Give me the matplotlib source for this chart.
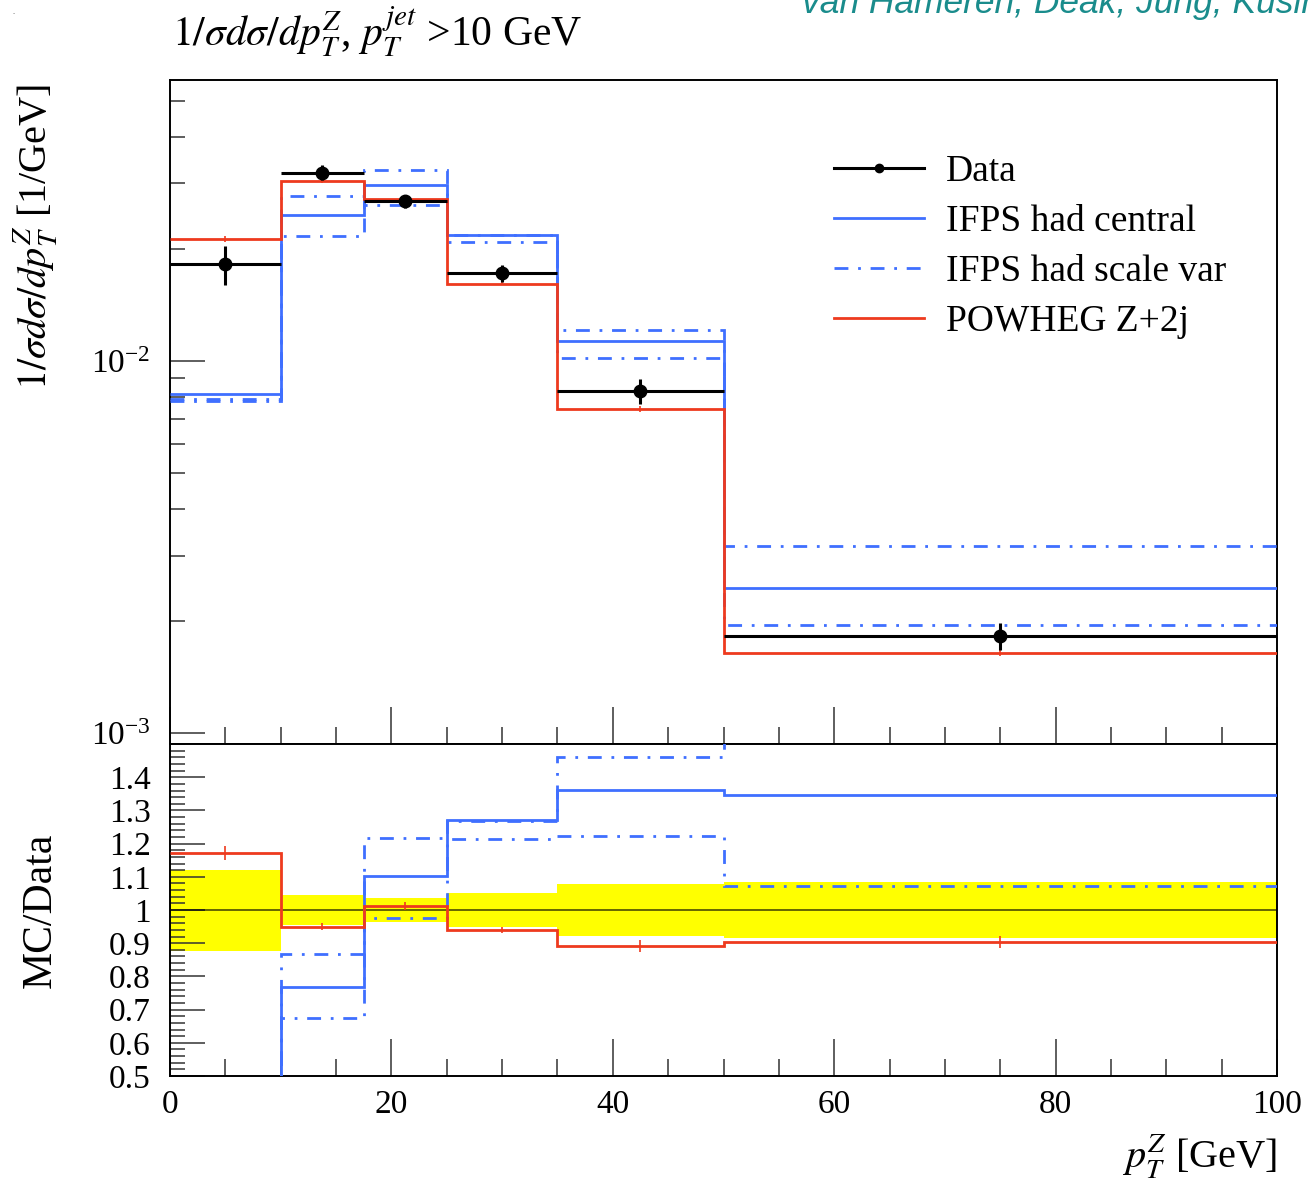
import matplotlib
matplotlib.use("Agg")
import matplotlib.pyplot as plt
import numpy as np
from matplotlib.lines import Line2D
from matplotlib.ticker import MultipleLocator, FixedLocator, LogLocator, NullFormatter

plt.rcParams["font.family"] = ["Liberation Serif", "DejaVu Serif"]
plt.rcParams["mathtext.fontset"] = "stix"

# bins and values
edges = [0, 10, 17.5, 25, 35, 50, 100]
data = [0.0182, 0.0321, 0.02685, 0.0172, 0.00832, 0.00182]
data_relerr = [0.122, 0.046, 0.037, 0.05, 0.077, 0.084]
ifps_central = [0.00817, 0.0247, 0.02964, 0.02184, 0.01133, 0.00245]
ifps_var_a = [0.0079, 0.0217, 0.0327, 0.0218, 0.01215, 0.00319]
ifps_var_b = [0.00783, 0.0278, 0.0262, 0.0209, 0.01017, 0.00195]
powheg = [0.02133, 0.0305, 0.0272, 0.01615, 0.00742, 0.001643]
powheg_relerr = [0.018, 0.012, 0.012, 0.01, 0.02, 0.02]

BLUE = "#3f6fff"
RED = "#ee3a1e"
DASHDOT = (0, (5, 3.5, 1, 3.5))

edges_a = np.array(edges)
centers = 0.5 * (edges_a[1:] + edges_a[:-1])
data_a = np.array(data)
derr = data_a * np.array(data_relerr)
perr = np.array(powheg) * np.array(powheg_relerr)

fig = plt.figure(figsize=(13.1, 11.81), dpi=100)
ax = fig.add_axes([0.1298, 0.370, 0.845, 0.5622])
rx = fig.add_axes([0.1298, 0.0889, 0.845, 0.2811], sharex=ax)

lw = 2.0
# ----- main panel -----
ax.stairs(ifps_central, edges, baseline=None, color=BLUE, lw=lw, zorder=3)
ax.stairs(ifps_var_a, edges, baseline=None, color=BLUE, lw=lw, ls=DASHDOT, zorder=3)
ax.stairs(ifps_var_b, edges, baseline=None, color=BLUE, lw=lw, ls=DASHDOT, zorder=3)
ax.stairs(powheg, edges, baseline=None, color=RED, lw=lw, zorder=4)
ax.errorbar(centers, powheg, yerr=perr, fmt="none", ecolor=RED, elinewidth=1.2, zorder=4)
ax.errorbar(centers, data, xerr=[centers - edges_a[:-1], edges_a[1:] - centers],
            yerr=derr, fmt="o", color="black", ms=9, elinewidth=2.2, capsize=0,
            zorder=5)

ax.set_yscale("log")
ax.set_xlim(0, 100)
ax.set_ylim(9.34e-4, 0.0569)
ax.yaxis.set_major_locator(LogLocator(base=10))
ax.yaxis.set_minor_locator(LogLocator(base=10, subs=np.arange(2, 10)))
ax.yaxis.set_minor_formatter(NullFormatter())
ax.xaxis.set_major_locator(MultipleLocator(20))
ax.xaxis.set_minor_locator(MultipleLocator(5))
ax.tick_params(axis="x", labelbottom=False)

handles = [
    Line2D([], [], color="black", lw=2.2, marker="o", ms=6),
    Line2D([], [], color=BLUE, lw=lw),
    Line2D([], [], color=BLUE, lw=lw, ls=DASHDOT),
    Line2D([], [], color=RED, lw=lw),
]
labels = ["Data", "IFPS had central", "IFPS had scale var", "POWHEG Z+2j"]
ax.legend(handles, labels, loc="upper left", bbox_to_anchor=(0.586, 0.911),
          frameon=False, fontsize=27, handlelength=2.4, handletextpad=0.6,
          labelspacing=0.42, borderaxespad=0)

# ----- ratio panel -----
lo = 1 - np.array(data_relerr)
hi = 1 + np.array(data_relerr)
rx.stairs(hi, edges, baseline=lo, fill=True, color="#ffff00", lw=0, zorder=1)
rx.axhline(1, color="black", lw=1.4, alpha=0.6, zorder=2)
rx.stairs(np.array(ifps_central) / data_a, edges, baseline=None, color=BLUE, lw=lw, zorder=3)
rx.stairs(np.array(ifps_var_a) / data_a, edges, baseline=None, color=BLUE, lw=lw,
          ls=DASHDOT, zorder=3)
rx.stairs(np.array(ifps_var_b) / data_a, edges, baseline=None, color=BLUE, lw=lw,
          ls=DASHDOT, zorder=3)
rx.stairs(np.array(powheg) / data_a, edges, baseline=None, color=RED, lw=lw, zorder=4)
rx.errorbar(centers, np.array(powheg) / data_a, yerr=perr / data_a, fmt="none",
            ecolor=RED, elinewidth=1.2, zorder=4)

rx.set_ylim(0.5, 1.5)
rx.yaxis.set_major_locator(FixedLocator(np.round(np.arange(0.5, 1.41, 0.1), 2)))
rx.yaxis.set_minor_locator(MultipleLocator(0.02))
rx.yaxis.set_major_formatter(lambda v, p: f"{v:g}")

for a in (ax, rx):
    a.tick_params(which="both", direction="in", top=False, right=False, width=1.1,
                  color="#333333", labelsize=24)
    a.tick_params(axis="y", which="major", length=25, pad=14)
    a.tick_params(axis="y", which="minor", length=11)
    a.tick_params(axis="x", which="major", length=27, pad=10)
    a.tick_params(axis="x", which="minor", length=12)
    for s in a.spines.values():
        s.set_linewidth(1.4)

# ----- text -----
fig.text(172 / 1310, 1 - 46 / 1181, r"$1/\sigma d\sigma/dp_T^Z$, $p_T^{jet}$ >10 GeV",
         fontsize=30, ha="left", va="baseline")
fig.text(802 / 1310, 1 - 12.5 / 1181, "van Hameren, Deak, Jung, Kusina",
         family="Liberation Sans", style="italic", color="#1a8c8c", fontsize=25.5,
         ha="left", va="baseline")
fig.text(12 / 1310, 1 - 14 / 1181, ".", fontsize=6, color="#555555")
fig.text(36 / 1310, 1 - 84 / 1181, r"$1/\sigma d\sigma/dp_T^Z$ [1/GeV]",
         rotation=90, fontsize=29, ha="center", va="top")
fig.text(41 / 1310, 1 - 910 / 1181, "MC/Data", rotation=90, fontsize=30,
         ha="center", va="center")
fig.text(1277 / 1310, 1 - 1168 / 1181, r"$p_T^Z$ [GeV]", fontsize=29,
         ha="right", va="baseline")

fig.savefig("out.png", dpi=100)
